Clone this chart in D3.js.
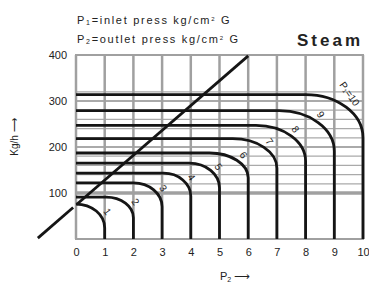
<!DOCTYPE html>
<html>
<head>
<meta charset="utf-8">
<script src="https://cdn.jsdelivr.net/npm/d3@7"></script>
<style>
	body { margin:0; background:#fff; }
	svg { display:block; }
	text { font-family:"Liberation Sans", Arial, sans-serif; fill:#222; }
</style>
</head>
<body>
<div id="chart"></div>
<script>
// inlet pressure of each curve (kg/cm2 G)
var inletPress = [1,2,3,4,5,6,7,8,9,10];
// flat (max) flow of each curve, kg/h
var maxFlow = [76,91,122,143,165,187,218,247,279,314];
// outlet press where each curve starts to bend down
var bendPress = [0,1.05,2.0,3.05,3.95,4.65,5.46,6.27,7.08,8.0];
// flow where the bend meets the vertical drop
var bendFlow = [24,46,70,93,111,133,154,169,191,220];

var xTicks = [0,1,2,3,4,5,6,7,8,9,10];
var yTicks = [100,200,300,400];
var yGrid = [120,140,160,180,200,220,240,260,280,300,320];

// diagonal reference line (two end points)
var diagPress = [-1.33,6.0];
var diagFlow = [2,398];

var W = 369, H = 284;
var svg = d3.select("#chart").append("svg").attr("width",W).attr("height",H);

var x = d3.scaleLinear().domain([0,10]).range([76,363]);
var y = d3.scaleLinear().domain([0,400]).range([239,55]);

//grid
var grid = svg.append("g");
grid.selectAll(".hg").data(yGrid).enter().append("line")
	.attr("x1",x(0)).attr("x2",x(10))
	.attr("y1",function(d){return y(d)}).attr("y2",function(d){return y(d)})
	.attr("stroke","#aaa").attr("stroke-width",function(d){return d%100==0 ? 2 : 1.3});
grid.append("line")
	.attr("x1",x(0)).attr("x2",x(10)).attr("y1",y(100)).attr("y2",y(100))
	.attr("stroke","#a0a0a0").attr("stroke-width",3.5);
grid.selectAll(".vg").data(xTicks).enter().append("line")
	.attr("x1",function(d){return x(d)}).attr("x2",function(d){return x(d)})
	.attr("y1",y(0)).attr("y2",y(400))
	.attr("stroke","#a0a0a0").attr("stroke-width",2.5);
[0,400].forEach(function(v){
	grid.append("line").attr("x1",x(0)-1).attr("x2",x(10)+1)
		.attr("y1",y(v)).attr("y2",y(v))
		.attr("stroke","#a0a0a0").attr("stroke-width",2);
});

//curves: flat part, quarter ellipse, vertical drop
var k = 0.5523;
function curvePath(i){
	var p = d3.path();
	var x0 = x(0), xb = x(bendPress[i]), xe = x(inletPress[i]);
	var yq = y(maxFlow[i]), yb = y(bendFlow[i]);
	var rx = xe - xb, ry = yb - yq;
	p.moveTo(x0, yq);
	p.lineTo(xb, yq);
	p.bezierCurveTo(xb + k*rx, yq, xe, yb - k*ry, xe, yb);
	p.lineTo(xe, y(0));
	return p.toString();
}
svg.append("g").selectAll("path").data(inletPress).enter().append("path")
	.attr("d",function(d,i){return curvePath(i)})
	.attr("fill","none").attr("stroke","#151515").attr("stroke-width",2.8);

//diagonal, with a small white gap at the axis
var slope = (diagFlow[1]-diagFlow[0])/(diagPress[1]-diagPress[0]);
function diagAt(p){return diagFlow[0] + slope*(p - diagPress[0]);}
var segs = [[diagPress[0],-0.1],[0.02,diagPress[1]]];
svg.append("g").selectAll("line").data(segs).enter().append("line")
	.attr("x1",function(d){return x(d[0])}).attr("y1",function(d){return y(diagAt(d[0]))})
	.attr("x2",function(d){return x(d[1])}).attr("y2",function(d){return y(diagAt(d[1]))})
	.attr("stroke","#151515").attr("stroke-width",2.8);

//curve labels, sitting just outside each bend
var labs = svg.append("g");
inletPress.forEach(function(p,i){
	var th = (30 + 2.2*(p-1))*Math.PI/180;
	var cx = x(bendPress[i]), cy = y(bendFlow[i]);
	var rx = x(p) - cx, ry = cy - y(maxFlow[i]);
	var px = cx + rx*Math.cos(th), py = cy - ry*Math.sin(th);
	var nx = Math.cos(th)/rx, ny = Math.sin(th)/ry, nl = Math.sqrt(nx*nx+ny*ny);
	var off = p == 10 ? 13 : 8;
	var lx = px + off*nx/nl, ly = py - off*ny/nl;
	var t = labs.append("text")
		.attr("transform","translate("+lx+","+ly+") rotate(55)")
		.attr("text-anchor","middle").attr("dy","0.35em")
		.style("font-size","10px");
	if(p == 10){
		t.append("tspan").text("P");
		t.append("tspan").attr("baseline-shift","-20%").style("font-size","6px").text("1");
		t.append("tspan").text("=10");
	}else{
		t.text(p);
	}
});

//axes
var xAxis = d3.axisBottom(x).tickValues(xTicks).tickSize(0).tickPadding(9);
svg.append("g").attr("transform","translate(0,"+y(0)+")").call(xAxis)
	.call(function(g){g.select(".domain").remove()})
	.selectAll("text").style("font-size","11px").attr("fill","#222")
	.style("font-family","Liberation Sans, Arial, sans-serif");
var yAxis = d3.axisLeft(y).tickValues(yTicks).tickSize(0).tickPadding(9);
svg.append("g").attr("transform","translate("+x(0)+",0)").call(yAxis)
	.call(function(g){g.select(".domain").remove()})
	.selectAll("text").style("font-size","11px").attr("fill","#222")
	.style("font-family","Liberation Sans, Arial, sans-serif");

//axis titles
var xt = svg.append("text").attr("x",220).attr("y",280).style("font-size","11px");
xt.append("tspan").text("P");
xt.append("tspan").attr("baseline-shift","-25%").style("font-size","7px").text("2");
xt.append("tspan").attr("dx","3").style("font-family","DejaVu Sans").text("\u27F6");

svg.append("text").attr("transform","translate(18,137) rotate(-90)")
	.attr("text-anchor","middle").style("font-size","10px")
	.text("Kg/h \u27F6");

//header
var notes = [["1","inlet"],["2","outlet"]];
notes.forEach(function(n,i){
	var t = svg.append("text").attr("x",77).attr("y",24 + i*19)
		.style("font-size","11px").style("letter-spacing","1.7px");
	t.append("tspan").text("P");
	t.append("tspan").attr("baseline-shift","-20%").style("font-size","7px").text(n[0]);
	t.append("tspan").text("="+n[1]+" press kg/cm");
	t.append("tspan").attr("baseline-shift","super").style("font-size","6px").text("2");
	t.append("tspan").text(" G");
});
svg.append("text").attr("x",363).attr("y",46).attr("text-anchor","end")
	.style("font-size","17px").style("font-weight","bold").style("letter-spacing","3px")
	.text("Steam");
</script>
</body>
</html>
